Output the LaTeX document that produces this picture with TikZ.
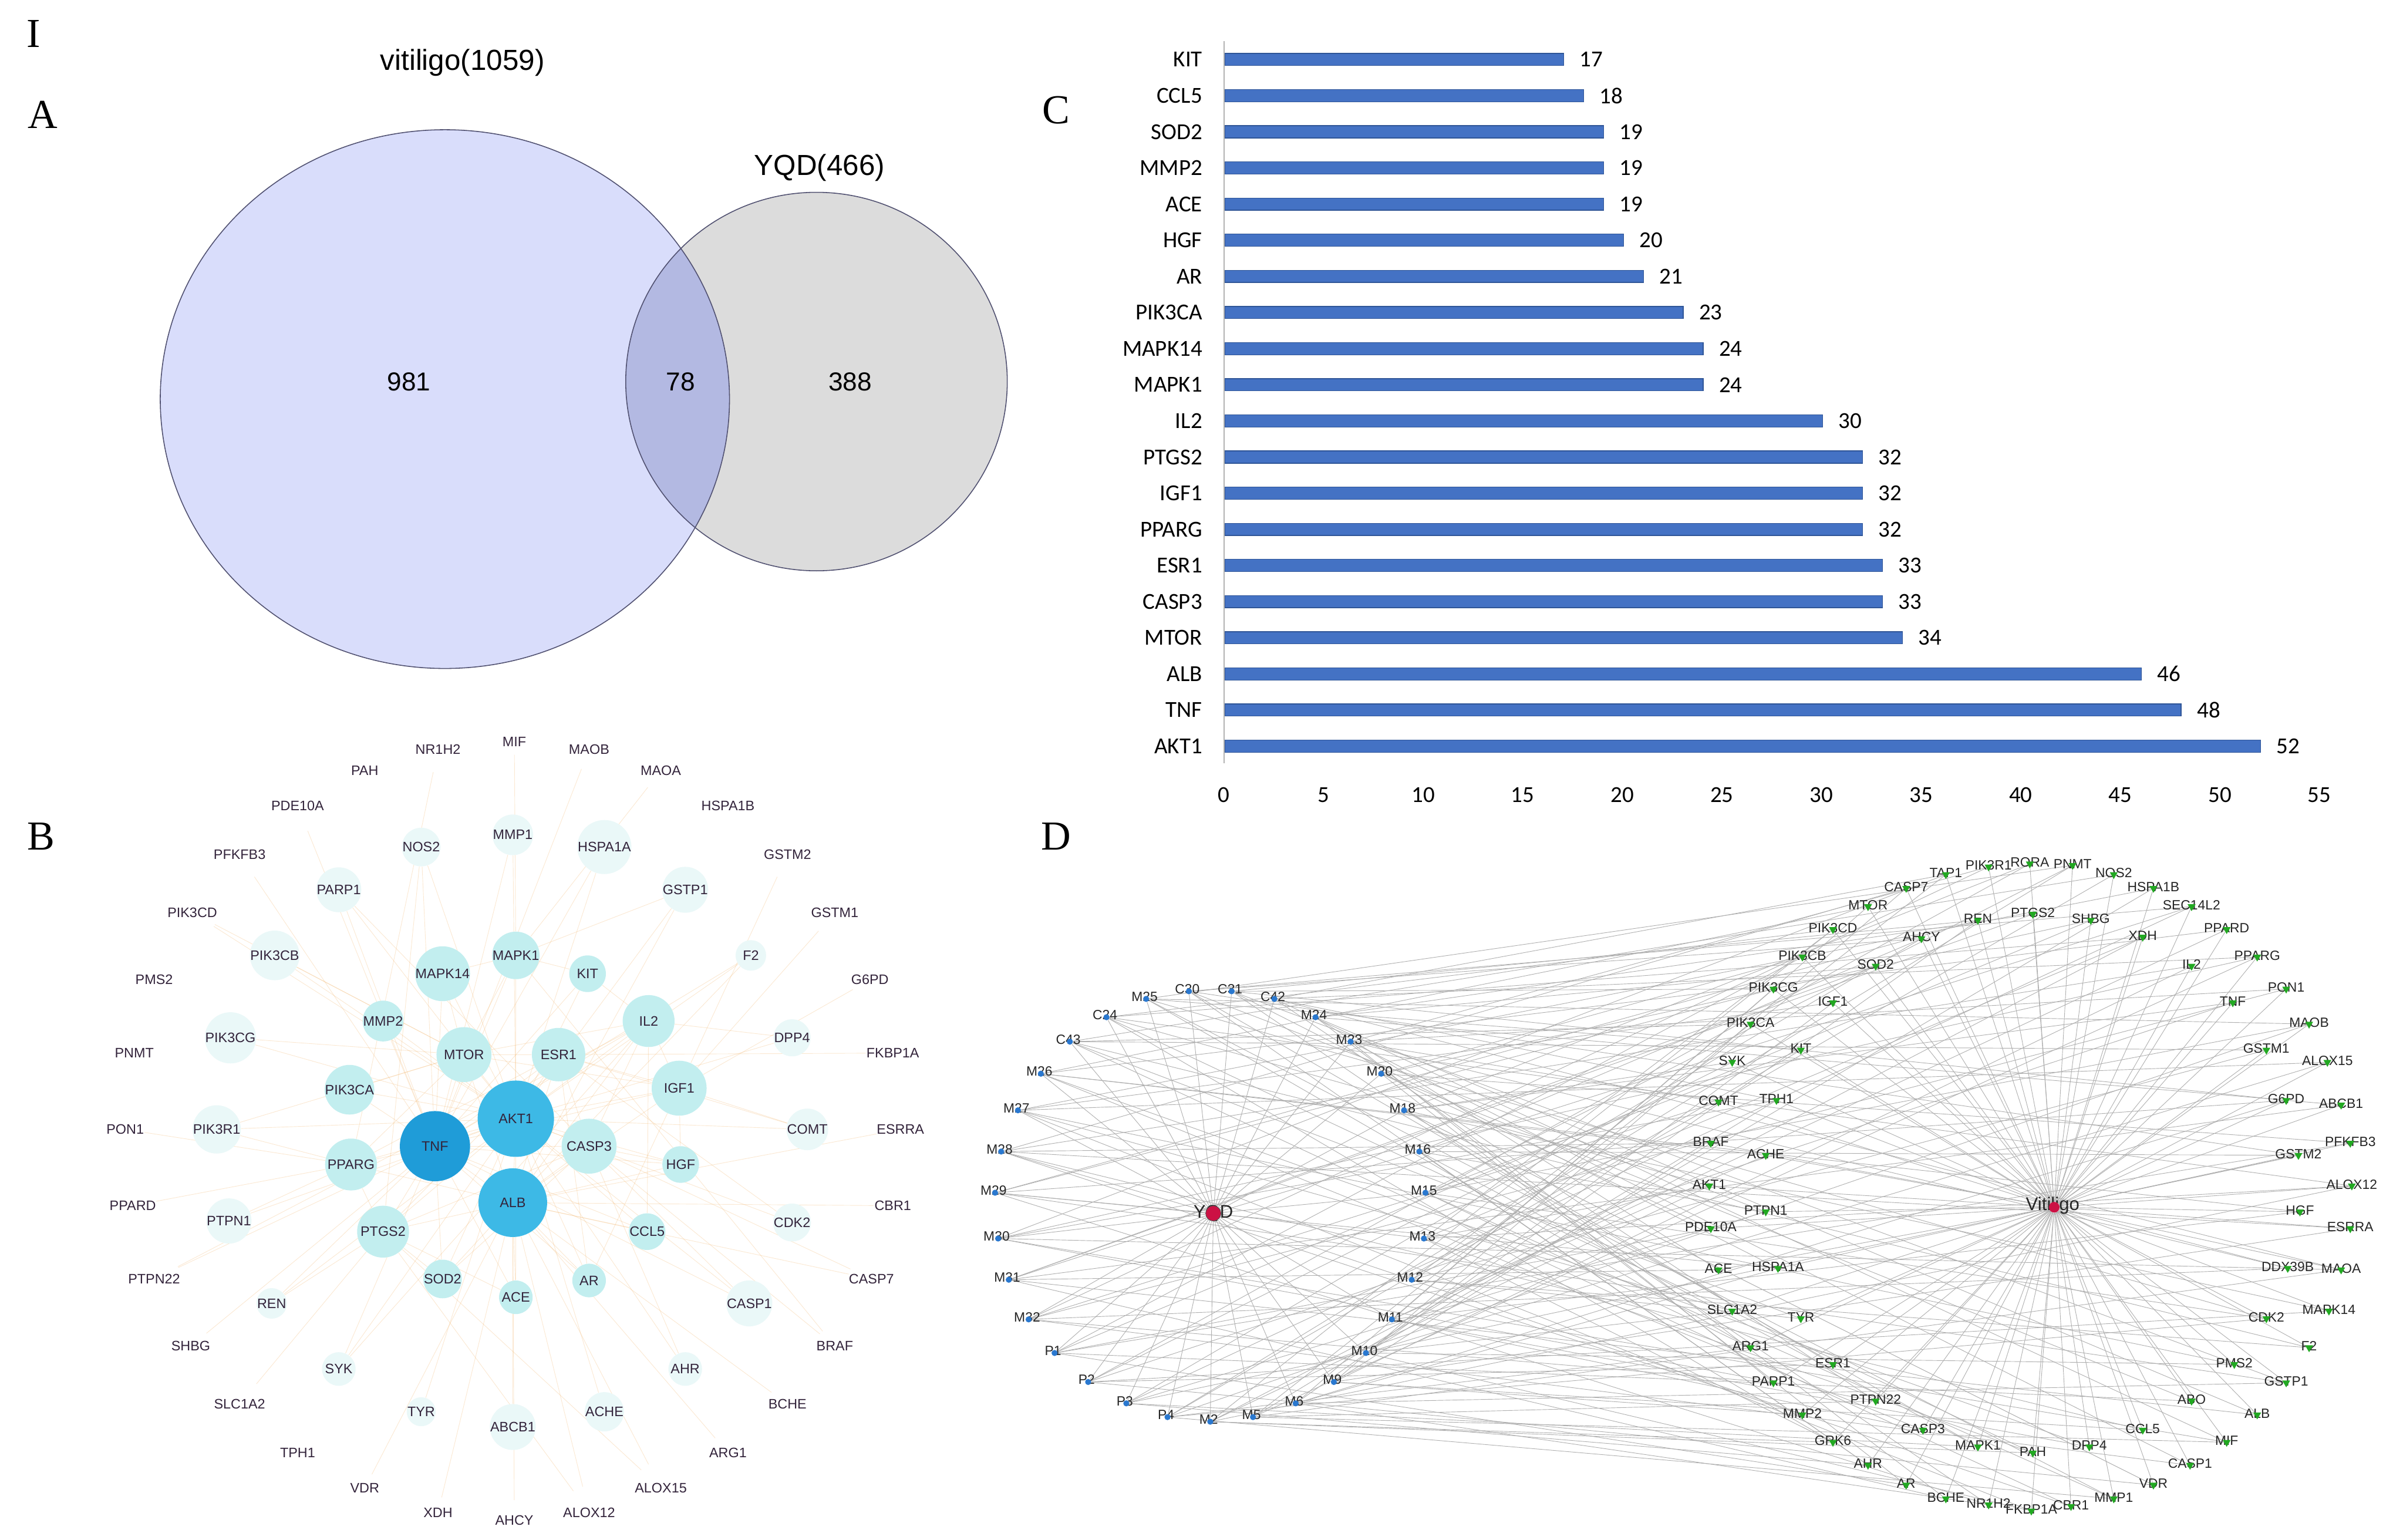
\documentclass[tikz,border=0pt]{standalone}
\usepackage{fontspec}
\setmainfont{Liberation Sans}
\newfontfamily\serifl{Liberation Serif}
\newfontfamily\carl{Carlito}
\usetikzlibrary{shapes.geometric}
\pgfdeclarelayer{back}\pgfdeclarelayer{bg}\pgfsetlayers{back,bg,main}
\definecolor{venA}{HTML}{D9DDFB}
\definecolor{venB}{HTML}{DCDCDC}
\definecolor{venAB}{HTML}{B3B9E2}
\definecolor{venE}{HTML}{505070}
\definecolor{barblue}{HTML}{4472C4}
\definecolor{baredge}{HTML}{2F5597}
\definecolor{hubA}{HTML}{3DB9E6}
\definecolor{hubT}{HTML}{1F9CD8}
\definecolor{midc}{HTML}{C2EEEF}
\definecolor{faintc}{HTML}{EAF8F8}
\definecolor{bedge}{HTML}{F4B56A}
\definecolor{btext}{HTML}{33243B}
\definecolor{dedge}{HTML}{B0B0B0}
\definecolor{cdot}{HTML}{2A78CF}
\definecolor{gdot}{HTML}{22A822}
\definecolor{hubred}{HTML}{CC1144}
\tikzset{
  panel/.style={font=\serifl\fontsize{27}{27}\selectfont, inner sep=0},
  venlab/.style={font=\fontsize{19}{19}\selectfont, inner sep=0},
  vennum/.style={font=\fontsize{17}{17}\selectfont, inner sep=0},
  cat/.style={font=\carl\fontsize{15}{15}\selectfont, anchor=east, inner sep=0},
  val/.style={font=\carl\fontsize{15}{15}\selectfont, anchor=west, inner sep=0},
  tick/.style={font=\carl\fontsize{15}{15}\selectfont, inner sep=0},
  bar/.style={fill=barblue, draw=baredge, line width=0.5pt, anchor=west, minimum height=8pt, inner sep=0},
  bn/.style={circle, inner sep=0, font=\fontsize{9}{9}\selectfont, text=btext},
  bedgeS/.style={draw=bedge, opacity=0.3, line width=0.35pt},
  dlab/.style={font=\fontsize{8.8}{8.8}\selectfont, inner sep=0, text=black!85},
  cmark/.style={circle, fill=cdot, inner sep=0, minimum size=4pt},
  gmark/.style={regular polygon, regular polygon sides=3, shape border rotate=180, fill=gdot, inner sep=0, minimum size=6pt},
  dedgeS/.style={draw=dedge, line width=0.35pt},
  hubdot/.style={circle, fill=hubred, draw=black!70, line width=0.3pt, inner sep=0, minimum size=#1},
  hublab/.style={font=\fontsize{12}{12}\selectfont, inner sep=0, text=black!85}
}
\begin{document}
\begin{tikzpicture}[x=1pt,y=-1pt]
\useasboundingbox (0,0) rectangle (1568,1009);
\begin{pgfonlayer}{back}
\fill[white] (0,0) rectangle (1568,1009);
\end{pgfonlayer}

% ---------- panel letters ----------
\node[panel] (pI) at (22,22) {I};
\node[panel] (pA) at (28,75) {A};
\node[panel] (pB) at (27,548) {B};
\node[panel] (pC) at (692,72) {C};
\node[panel] (pD) at (692,548) {D};

% ---------- A: Venn ----------
\fill[venA] (291.5,261.5) ellipse [x radius=186.5pt, y radius=176.5pt];
\fill[venB] (535,250) ellipse [x radius=125pt, y radius=124pt];
\begin{scope}
  \clip (291.5,261.5) ellipse [x radius=186.5pt, y radius=176.5pt];
  \fill[venAB] (535,250) ellipse [x radius=125pt, y radius=124pt];
\end{scope}
\draw[venE, line width=0.6pt] (291.5,261.5) ellipse [x radius=186.5pt, y radius=176.5pt];
\draw[venE, line width=0.6pt] (535,250) ellipse [x radius=125pt, y radius=124pt];
\node[venlab] (vitlab) at (303,41) {vitiligo(1059)};
\node[venlab] (yqdlab) at (537,110) {YQD(466)};
\node[vennum] (n981) at (268,250) {981};
\node[vennum] (n78) at (446,250) {78};
\node[vennum] (n388) at (557,250) {388};

% ---------- C: bar chart ----------
\draw[black!30, line width=0.6pt] (802,27) -- (802,500);
\foreach \n/\v [count=\i from 0] in {KIT/17,CCL5/18,SOD2/19,MMP2/19,ACE/19,HGF/20,AR/21,PIK3CA/23,MAPK14/24,MAPK1/24,IL2/30,PTGS2/32,IGF1/32,PPARG/32,ESR1/33,CASP3/33,MTOR/34,ALB/46,TNF/48,AKT1/52}{
  \pgfmathsetmacro\yy{39+\i*23.68}
  \pgfmathsetmacro\ww{\v*13.05}
  \node[cat] (cl\i) at (788,\yy) {\n};
  \node[bar, minimum width=\ww pt] (bar\i) at (802.5,\yy) {};
  \node[val] (cv\i) at ([xshift=10pt]bar\i.east) {\v};
}
\foreach \t in {0,5,...,55}{
  \node[tick] (tk\t) at ({802+\t*13.05},521) {\t};
}

% ---------- B: PPI network ----------
\foreach \n/\x/\y/\d/\c in {
  MIF/337/486/0/none, NR1H2/287/491/0/none, MAOB/386/491/0/none, PAH/239/505/0/none,
  MAOA/433/505/0/none, PDE10A/195/528/0/none, HSPA1B/477/528/0/none, PFKFB3/157/560/0/none,
  GSTM2/516/560/0/none, PIK3CD/126/598/0/none, GSTM1/547/598/0/none, PMS2/101/642/0/none,
  G6PD/570/642/0/none, PNMT/88/690/0/none, FKBP1A/585/690/0/none, PON1/82/740/0/none,
  ESRRA/590/740/0/none, PPARD/87/790/0/none, CBR1/585/790/0/none, PTPN22/101/838/0/none,
  CASP7/571/838/0/none, SHBG/125/882/0/none, BRAF/547/882/0/none, SLC1A2/157/920/0/none,
  BCHE/516/920/0/none, TPH1/195/952/0/none, ARG1/477/952/0/none, VDR/239/975/0/none,
  ALOX15/433/975/0/none, XDH/287/991/0/none, AHCY/337/996/0/none, ALOX12/386/991/0/none,
  MMP1/336/547/18/faintc, NOS2/276/555/18/faintc, HSPA1A/396/555/18/faintc, PARP1/222/583/22/faintc,
  GSTP1/449/583/22/faintc, PIK3CB/180/626/20/faintc, F2/492/626/20/faintc, PIK3CG/151/680/20/faintc,
  DPP4/519/680/20/faintc, PIK3R1/142/740/20/faintc, COMT/529/740/20/faintc, PTPN1/150/800/20/faintc,
  CDK2/519/801/20/faintc, REN/178/854/20/faintc, CASP1/491/854/20/faintc, SYK/222/897/22/faintc,
  AHR/449/897/22/faintc, TYR/276/925/18/faintc, ACHE/396/925/18/faintc, ABCB1/336/935/18/faintc,
  MAPK14/290/638/32/midc, MAPK1/338/626/30/midc, KIT/385/638/24/midc, MMP2/251/669/26/midc,
  PIK3CA/229/714/26/midc, HGF/446/763/24/midc, CCL5/424/807/24/midc, SOD2/290/838/24/midc,
  AR/386/839/22/midc, ACE/338/850/22/midc,
  MTOR/304/691/36/midc, ESR1/366/691/35/midc, IL2/425/669/34/midc, IGF1/445/713/36/midc,
  CASP3/386/751/36/midc, PPARG/230/763/34/midc, PTGS2/251/807/34/midc,
  AKT1/338/733/50/hubA, TNF/285/751/46/hubT, ALB/336/788/45/hubA}{
  \node[bn, minimum size=\d pt, fill=\c] (b\n) at (\x,\y) {\n};
}
\begin{pgfonlayer}{bg}
\foreach \h/\ts in {
  AKT1/{TNF,ALB,MTOR,ESR1,IL2,IGF1,CASP3,PPARG,PTGS2,MAPK14,MAPK1,KIT,MMP2,PIK3CA,HGF,CCL5,SOD2,AR,ACE,PARP1,NOS2,GSTP1,PIK3CB,PIK3CD,PIK3CG,PIK3R1,F2,DPP4,CDK2,CASP1,SYK,AHR,REN,PTPN1,COMT,MMP1,HSPA1A,TYR,ACHE},
  TNF/{ALB,MTOR,ESR1,IL2,IGF1,CASP3,PPARG,PTGS2,MAPK14,MAPK1,KIT,MMP2,PIK3CA,HGF,CCL5,SOD2,AR,ACE,PARP1,NOS2,MMP1,HSPA1A,F2,CASP1,SYK,REN,PTPN22,SHBG,PDE10A,PFKFB3,MAOB},
  ALB/{MTOR,ESR1,IL2,IGF1,CASP3,PPARG,PTGS2,HGF,CCL5,SOD2,AR,ACE,F2,GSTP1,ABCB1,CBR1,ALOX15,ALOX12,XDH,VDR,AHCY,ARG1,BCHE,CASP7,ESRRA},
  MTOR/{ESR1,IL2,IGF1,PIK3CA,PIK3CB,PIK3CD,PIK3CG,PIK3R1,MAPK1,MAPK14,PPARG},
  ESR1/{IGF1,CASP3,PPARG,PTGS2,AR,COMT,CDK2,FKBP1A},
  IL2/{IGF1,CASP3,CCL5,KIT,SYK,PTPN22,DPP4},
  CASP3/{PTGS2,PARP1,CASP1,CASP7,SOD2,HGF,BRAF,AHR},
  PTGS2/{PPARG,SOD2,ALOX15,ALOX12,NOS2,ACE,REN,SLC1A2},
  IGF1/{HGF,AR,GSTM1,GSTM2,COMT,G6PD},
  PPARG/{PIK3R1,PON1,PPARD,PTPN1,NR1H2},
  MAPK1/{MAPK14,BRAF,KIT,GSTP1,MIF,MAOA}}{
  \foreach \t in \ts { \draw[bedgeS] (b\h) -- (b\t); }
}
\end{pgfonlayer}

% ---------- D: herb-compound-target network ----------
\node[hublab] (yqdtxt) at (795,795) {YQD};
\node[hubdot=10pt] (yqd) at (795,795) {};
\node[hublab] (vittxt) at (1345,790) {Vitiligo};
\node[hubdot=7pt, draw=none] (vit) at (1346,791) {};

\foreach \n/\x/\y [count=\i] in {
  C30/778/648, C31/806/648, M25/750/653, C42/834/653, C24/724/665, M24/861/665,
  C43/700/681, M23/884/681, M26/681/702, M20/904/702, M27/666/726, M18/919/726,
  M28/655/753, M16/929/753, M29/651/780, M15/933/780, M30/653/810, M13/932/810,
  M31/660/837, M12/924/837, M32/673/863, M11/911/863, P1/690/885, M10/894/885,
  P2/712/904, M9/873/904, P3/737/918, M6/848/918, P4/764/927, M5/820/927, M2/792/930}{
  \node[dlab] (cl\n) at (\x,\y) {\n};
  \node[cmark] (cd\i) at (\x+1,\y+1.5) {};
}
\foreach \n/\x/\y [count=\i] in {
  CASP7/1249/581, MTOR/1224/593, PIK3CD/1201/608, AHCY/1259/614, PIK3CB/1181/626,
  SOD2/1229/632, PIK3CG/1162/647, IGF1/1201/656, PIK3CA/1147/670, KIT/1180/687,
  SYK/1135/695, COMT/1126/721, TPH1/1164/720, BRAF/1121/748, ACHE/1157/756,
  AKT1/1120/776, PTPN1/1157/793, PDE10A/1121/804, ACE/1126/831, HSPA1A/1165/830,
  SLC1A2/1135/858, TYR/1180/863, ARG1/1147/882, ESR1/1201/893, PARP1/1162/905,
  PTPN22/1229/917, MMP2/1181/926, CASP3/1260/936, GRK6/1201/944, AHR/1224/959,
  AR/1249/972, BCHE/1275/981, NR1H2/1303/985, FKBP1A/1331/989, CBR1/1357/986,
  MMP1/1385/981, VDR/1411/972, CASP1/1435/959, MIF/1459/944, CCL5/1404/936,
  DPP4/1369/947, PAH/1332/951, MAPK1/1296/947, ABO/1436/917, ALB/1479/926,
  GSTP1/1498/905, PMS2/1464/893, F2/1513/882, CDK2/1485/863, MAPK14/1526/858,
  DDX39B/1499/830, MAOA/1534/831, ESRRA/1540/804, HGF/1507/793, ALOX12/1541/776,
  GSTM2/1506/756, PFKFB3/1540/748, ABCB1/1534/723, G6PD/1498/720, ALOX15/1525/695,
  GSTM1/1485/687, MAOB/1513/670, TNF/1463/656, PON1/1498/647, PPARG/1479/626,
  IL2/1436/632, PPARD/1459/608, XDH/1404/613, SEC14L2/1436/593, SHBG/1370/602,
  PTGS2/1332/598, REN/1296/602, HSPA1B/1411/581, NOS2/1385/572, PNMT/1358/566,
  RORA/1330/565, PIK3R1/1303/567, TAP1/1275/572}{
  \node[dlab] (gl\n) at (\x,\y) {\n};
  \node[gmark] (gd\i) at (\x,\y+1) {};
}
\begin{pgfonlayer}{bg}
\foreach \i in {1,...,31}{ \draw[dedgeS] (yqd) -- (cd\i); }
\foreach \i in {1,...,78}{ \draw[dedgeS] (vit) -- (gd\i); }
\foreach \i in {1,...,31}{
  \foreach \k in {1,...,6}{
    \pgfmathtruncatemacro\j{mod(\i*29+\k*13,78)+1}
    \draw[dedgeS] (cd\i) -- (gd\j);
  }
}
\end{pgfonlayer}
\end{tikzpicture}
\end{document}
